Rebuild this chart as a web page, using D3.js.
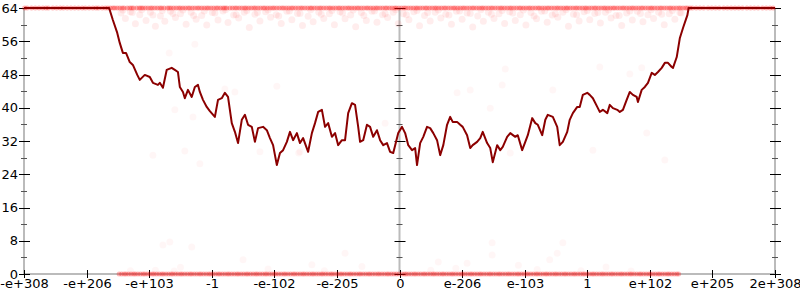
<!DOCTYPE html>
<html>
<head>
<meta charset="utf-8">
<script src="https://cdn.jsdelivr.net/npm/d3@7"></script>
<style>
body { margin: 0; background: #fff; }
text { font-family: "DejaVu Sans", sans-serif; font-size: 13px; fill: #000; }
</style>
</head>
<body>
<script>
//x positions are in tick units: -6 is the left edge, 0 the middle, 6 the right edge
var xTickLabels = ["-e+308", "-e+206", "-e+103", "-1", "-e-102", "-e-205", "0",
                   "e-206", "e-103", "1", "e+102", "e+205", "2e+308"];
var yTicks = [0, 8, 16, 24, 32, 40, 48, 56, 64];
var yMinorTicks = [4, 12, 20, 28, 36, 44, 52, 60];

//the dark red line
var lineT = [-6, -4.64, -4.58, -4.51, -4.47, -4.42, -4.37, -4.31, -4.26, -4.19, -4.15, -4.07, -3.99, -3.94, -3.86, -3.83,
    -3.78, -3.72, -3.64, -3.59, -3.54, -3.51, -3.46, -3.43, -3.38, -3.32, -3.27, -3.22, -3.19, -3.14, -3.08, -3.03,
    -2.95, -2.90, -2.84, -2.79, -2.74, -2.68, -2.63, -2.58, -2.52, -2.47, -2.42, -2.36, -2.31, -2.26, -2.18, -2.12,
    -2.07, -2.02, -1.96, -1.91, -1.86, -1.80, -1.75, -1.70, -1.64, -1.59, -1.54, -1.46, -1.40, -1.35, -1.30, -1.24,
    -1.19, -1.14, -1.08, -1.03, -0.98, -0.92, -0.87, -0.82, -0.76, -0.71, -0.66, -0.63, -0.58, -0.52, -0.47, -0.42,
    -0.36, -0.31, -0.26, -0.20, -0.15, -0.10, -0.06, -0.02, 0.04, 0.09, 0.14, 0.20, 0.25, 0.28, 0.33, 0.38,
    0.44, 0.49, 0.54, 0.60, 0.65, 0.70, 0.76, 0.81, 0.85, 0.92, 0.97, 1.01, 1.08, 1.13, 1.17, 1.24,
    1.29, 1.33, 1.40, 1.45, 1.49, 1.56, 1.61, 1.65, 1.72, 1.77, 1.85, 1.89, 1.96, 2.01, 2.05, 2.12,
    2.17, 2.21, 2.28, 2.33, 2.37, 2.45, 2.52, 2.56, 2.61, 2.68, 2.72, 2.77, 2.84, 2.88, 2.93, 3.00,
    3.04, 3.09, 3.16, 3.20, 3.25, 3.32, 3.36, 3.41, 3.48, 3.52, 3.57, 3.63, 3.68, 3.73, 3.79, 3.81,
    3.87, 3.92, 3.97, 4.03, 4.08, 4.13, 4.19, 4.24, 4.29, 4.35, 4.37, 4.43, 4.48, 4.53, 4.60, 4.62, 6];
var lineV = [64, 64, 61.1, 58.0, 55.6, 53.2, 53.2, 51.0, 50.3, 47.9, 46.7, 47.9, 47.4, 46.0, 45.5, 46.0,
    44.8, 49.1, 49.6, 49.1, 48.6, 45.0, 43.8, 42.3, 44.3, 42.6, 45.0, 45.5, 43.8, 41.9, 40.2, 39.2,
    37.8, 41.9, 42.3, 43.6, 42.6, 36.3, 34.2, 31.5, 37.1, 38.3, 35.9, 35.4, 31.8, 35.1, 35.4, 34.6,
    32.7, 31.0, 26.2, 29.1, 29.8, 31.8, 34.2, 32.2, 33.9, 31.5, 32.7, 29.4, 33.9, 36.3, 39.0, 39.5,
    35.4, 36.3, 33.0, 33.9, 31.0, 32.2, 32.2, 38.7, 41.1, 40.7, 35.4, 31.8, 32.2, 35.9, 35.4, 33.0,
    34.6, 32.2, 31.0, 31.5, 29.4, 29.1, 31.5, 33.9, 35.4, 33.9, 31.0, 29.8, 30.3, 26.2, 31.5, 33.0,
    35.4, 35.1, 33.9, 32.2, 28.6, 31.0, 35.9, 37.8, 36.6, 36.6, 35.9, 35.4, 33.4, 30.3, 31.0, 31.8,
    32.7, 34.2, 31.5, 30.3, 26.9, 31.0, 29.8, 30.6, 33.0, 33.9, 33.0, 33.4, 29.8, 31.8, 33.4, 37.5,
    36.3, 35.9, 33.4, 37.1, 38.3, 37.8, 35.4, 31.0, 31.8, 34.2, 37.1, 38.7, 40.2, 40.2, 43.1, 43.6,
    43.1, 42.3, 40.2, 39.0, 39.5, 38.7, 40.7, 39.9, 39.5, 39.0, 39.5, 41.9, 43.8, 43.1, 42.6, 41.4,
    44.3, 45.0, 46.0, 48.4, 47.9, 48.6, 49.6, 50.8, 50.8, 49.8, 49.6, 52.2, 56.8, 59.2, 62.3, 64, 64];

//dense row of points sitting on 64
var topRowT = [-5.99, -5.95, -5.88, -5.82, -5.76, -5.7, -5.65, -5.61, -5.54, -5.48, -5.42, -5.37, -5.31, -5.25,
    -5.19, -5.13, -5.07, -5.02, -4.96, -4.9, -4.85, -4.81, -4.75, -4.7, -4.66, -4.62, -4.58, -4.55, -4.51, -4.47,
    -4.43, -4.4, -4.35, -4.31, -4.28, -4.25, -4.2, -4.16, -4.13, -4.1, -4.06, -4.02, -3.98, -3.95, -3.91, -3.87,
    -3.83, -3.8, -3.76, -3.71, -3.68, -3.65, -3.61, -3.57, -3.53, -3.5, -3.46, -3.42, -3.38, -3.35, -3.31, -3.27,
    -3.23, -3.2, -3.16, -3.12, -3.08, -3.05, -3.01, -2.97, -2.93, -2.9, -2.86, -2.82, -2.79, -2.76, -2.71, -2.67,
    -2.63, -2.6, -2.56, -2.52, -2.48, -2.45, -2.41, -2.37, -2.33, -2.3, -2.26, -2.22, -2.18, -2.15, -2.11, -2.07,
    -2.03, -2.0, -1.96, -1.92, -1.88, -1.85, -1.81, -1.77, -1.73, -1.7, -1.66, -1.62, -1.58, -1.55, -1.51, -1.47,
    -1.43, -1.4, -1.36, -1.32, -1.28, -1.25, -1.21, -1.17, -1.13, -1.1, -1.06, -1.02, -0.98, -0.95, -0.91, -0.87,
    -0.83, -0.8, -0.76, -0.72, -0.68, -0.65, -0.61, -0.57, -0.53, -0.5, -0.46, -0.42, -0.38, -0.35, -0.31, -0.27,
    -0.23, -0.2, -0.16, -0.12, -0.08, -0.05, -0.01, 0.03, 0.07, 0.1, 0.14, 0.18, 0.22, 0.26, 0.29, 0.33, 0.37,
    0.41, 0.44, 0.48, 0.52, 0.56, 0.59, 0.63, 0.67, 0.71, 0.74, 0.78, 0.82, 0.86, 0.89, 0.93, 0.97, 1.01, 1.04,
    1.08, 1.12, 1.16, 1.19, 1.23, 1.27, 1.31, 1.34, 1.38, 1.42, 1.46, 1.49, 1.53, 1.57, 1.61, 1.64, 1.68, 1.72,
    1.76, 1.79, 1.83, 1.87, 1.91, 1.94, 1.98, 2.02, 2.06, 2.09, 2.13, 2.17, 2.21, 2.24, 2.28, 2.32, 2.36, 2.39,
    2.43, 2.47, 2.51, 2.54, 2.58, 2.62, 2.66, 2.69, 2.73, 2.77, 2.81, 2.84, 2.88, 2.92, 2.96, 2.99, 3.03, 3.07,
    3.11, 3.14, 3.18, 3.22, 3.26, 3.29, 3.33, 3.37, 3.41, 3.44, 3.48, 3.52, 3.56, 3.59, 3.63, 3.67, 3.71, 3.74,
    3.78, 3.82, 3.86, 3.89, 3.93, 3.97, 4.01, 4.04, 4.08, 4.12, 4.16, 4.19, 4.23, 4.27, 4.31, 4.34, 4.38, 4.42,
    4.46, 4.49, 4.53, 4.57, 4.6, 4.64, 4.68, 4.74, 4.8, 4.86, 4.93, 4.99, 5.05, 5.11, 5.18, 5.24, 5.3, 5.36,
    5.42, 5.48, 5.55, 5.61, 5.67, 5.73, 5.8, 5.86, 5.92, 5.97];

//dense row of points sitting on 0
var bottomRowT = [-4.48, -4.44, -4.4, -4.37, -4.33, -4.29, -4.25, -4.22, -4.18, -4.14, -4.1, -4.07, -4.03, -3.99,
    -3.95, -3.92, -3.88, -3.84, -3.8, -3.77, -3.73, -3.69, -3.65, -3.62, -3.58, -3.54, -3.5, -3.47, -3.43, -3.39,
    -3.35, -3.32, -3.28, -3.24, -3.2, -3.17, -3.13, -3.09, -3.05, -3.02, -2.98, -2.94, -2.9, -2.87, -2.83, -2.79,
    -2.75, -2.72, -2.68, -2.64, -2.6, -2.57, -2.53, -2.49, -2.45, -2.42, -2.38, -2.34, -2.3, -2.27, -2.23, -2.19,
    -2.15, -2.12, -2.08, -2.04, -2.0, -1.97, -1.93, -1.89, -1.85, -1.82, -1.78, -1.74, -1.7, -1.67, -1.63, -1.59,
    -1.55, -1.52, -1.48, -1.44, -1.4, -1.37, -1.33, -1.29, -1.25, -1.22, -1.18, -1.14, -1.1, -1.07, -1.03, -0.99,
    -0.95, -0.92, -0.88, -0.84, -0.8, -0.77, -0.73, -0.69, -0.65, -0.62, -0.58, -0.54, -0.5, -0.47, -0.43, -0.39,
    -0.35, -0.32, -0.28, -0.24, -0.2, -0.17, -0.13, -0.09, -0.05, -0.01, 0.04, 0.08, 0.11, 0.15, 0.19, 0.23, 0.26,
    0.3, 0.34, 0.38, 0.41, 0.45, 0.49, 0.53, 0.56, 0.6, 0.64, 0.68, 0.71, 0.75, 0.79, 0.83, 0.86, 0.9, 0.94, 0.98,
    1.01, 1.05, 1.09, 1.13, 1.16, 1.2, 1.24, 1.28, 1.31, 1.35, 1.39, 1.43, 1.46, 1.5, 1.54, 1.58, 1.61, 1.65,
    1.69, 1.73, 1.76, 1.8, 1.84, 1.88, 1.91, 1.95, 1.99, 2.03, 2.06, 2.1, 2.14, 2.18, 2.21, 2.25, 2.29, 2.33,
    2.36, 2.4, 2.44, 2.48, 2.51, 2.55, 2.59, 2.63, 2.66, 2.7, 2.74, 2.78, 2.81, 2.85, 2.89, 2.93, 2.96, 3.0,
    3.04, 3.08, 3.11, 3.15, 3.19, 3.23, 3.26, 3.3, 3.34, 3.38, 3.41, 3.45, 3.49, 3.53, 3.56, 3.6, 3.64, 3.68,
    3.71, 3.75, 3.79, 3.83, 3.86, 3.9, 3.94, 3.98, 4.01, 4.05, 4.09, 4.13, 4.16, 4.2, 4.24, 4.28, 4.31, 4.35,
    4.39, 4.43, 4.46];

//the cloud just under 64
var cloudT = [-4.45, -4.38, -4.3, -4.22, -4.15, -4.05, -3.98, -3.9, -3.82, -3.75, -3.66, -3.58, -3.5, -3.41,
    -3.33, -3.25, -3.16, -3.08, -2.99, -2.9, -2.82, -2.74, -2.65, -2.57, -2.48, -2.4, -2.31, -2.23, -2.14, -2.06,
    -1.97, -1.89, -1.8, -1.72, -1.63, -1.55, -1.46, -1.38, -1.29, -1.21, -1.12, -1.04, -0.95, -0.87, -0.78, -0.7,
    -0.61, -0.53, -0.44, -0.36, -0.27, -0.19, -0.1, -0.02, 0.06, 0.15, 0.23, 0.32, 0.4, 0.49, 0.57, 0.66, 0.74,
    0.83, 0.91, 1.0, 1.08, 1.17, 1.25, 1.34, 1.42, 1.51, 1.59, 1.68, 1.76, 1.85, 1.93, 2.02, 2.1, 2.19, 2.27,
    2.36, 2.44, 2.53, 2.61, 2.7, 2.78, 2.87, 2.95, 3.04, 3.12, 3.21, 3.29, 3.38, 3.46, 3.55, 3.63, 3.72, 3.8,
    3.89, 3.97, 4.06, 4.14, 4.23, 4.31, 4.4, 4.48,
    -4.42, -4.27, -4.12, -3.94, -3.79, -3.62, -3.46, -3.29, -3.12, -2.95, -2.78, -2.61, -2.44, -2.27, -2.1,
    -1.93, -1.76, -1.59, -1.42, -1.25, -1.08, -0.91, -0.74, -0.57, -0.4, -0.23, -0.06, 0.11, 0.28, 0.45, 0.62,
    0.79, 0.96, 1.13, 1.3, 1.47, 1.64, 1.81, 1.98, 2.15, 2.32, 2.49, 2.66, 2.83, 3.0, 3.17, 3.34, 3.51, 3.68,
    3.85, 4.02, 4.19, 4.36, 4.5];
var cloudV = [62.8, 61.5, 63.1, 60.2, 62.4, 61.0, 63.0, 59.6, 62.1, 60.8, 63.2, 61.7, 62.6, 60.1,
    63.0, 61.3, 62.2, 59.9, 62.9, 61.1, 63.3, 60.5, 62.3, 61.6, 63.0, 59.3, 62.5, 60.9, 63.1, 61.8,
    62.4, 60.3, 63.2, 61.2, 62.7, 59.8, 62.0, 60.7, 63.0, 61.5, 62.6, 60.0, 63.1, 61.4, 62.3, 59.5,
    62.9, 61.0, 63.2, 60.6, 62.4, 61.7, 63.0, 60.2, 62.6, 61.2, 63.1, 59.7, 62.2, 60.9, 63.0, 61.6, 62.5,
    60.1, 63.2, 61.3, 62.8, 59.4, 62.1, 60.8, 63.0, 61.5, 62.6, 60.3, 63.1, 61.0, 62.4, 59.9, 62.9, 61.4, 63.2,
    60.6, 62.3, 61.8, 63.0, 59.6, 62.5, 60.9, 63.1, 61.2, 62.7, 60.4, 63.0, 61.6, 62.2, 59.8, 62.8, 61.1, 63.2,
    60.7, 62.4, 61.5, 63.0, 60.0, 62.6, 61.3, 62.9,
    63.5, 62.9, 63.6, 62.3, 63.4, 62.7, 63.5, 62.2, 63.3, 62.8, 63.6, 62.4, 63.4, 62.9, 63.5,
    62.1, 63.3, 62.7, 63.6, 62.5, 63.4, 62.8, 63.5, 62.2, 63.3, 62.6, 63.6, 62.4, 63.4, 62.9, 63.5,
    62.3, 63.3, 62.7, 63.6, 62.5, 63.4, 62.8, 63.5, 62.1, 63.3, 62.6, 63.6, 62.4, 63.4, 62.9, 63.5, 62.2, 63.3,
    62.7, 63.6, 62.5, 63.4, 62.8];

//stray points in the open area and just above 0
var strayT = [-3.27, -3.68, -2.79, -2.63, -1.96, -3.59, -3.30, -3.94, -3.43, -3.19, -2.23, -1.61, 1.69, 1.64,
    3.20, 3.68, 3.87, 2.45, 3.95, 3.09, 4.24, -1.59, -0.23, 0.92, 1.13, 1.45, 1.77, -3.78, -3.67, -3.32, -2.50,
    -0.87, 1.48, 1.48, 0.62, 1.08, 2.61, 2.52, 2.40, -4.3, -3.9, -3.6, -1.2, 0.5, 2.9, 3.7,
    -3.5, -2.1, -0.6, 0.9, 2.2, 3.3, -1.4, 1.9];
var strayV = [55.3, 53.2, 44.5, 43.8, 45.2, 39.5, 37.8, 28.6, 29.6, 26.5, 29.4, 29.1, 49.3, 45.5,
    49.8, 48.1, 49.6, 44.3, 33.9, 29.8, 27.4, 29.4, 36.3, 43.6, 44.3, 39.9, 29.1, 7.0, 7.7, 6.5, 3.4,
    5.0, 7.5, 4.6, 2.9, 2.6, 7.5, 5.0, 3.4, 0.8, 0.9, 0.7, 0.8, 0.9, 0.8, 0.7,
    1.6, 1.2, 1.8, 1.4, 1.1, 1.7, 2.2, 2.1];

//begin script when window loads
window.onload = drawChart();

function drawChart(){
    var width = 800,
        height = 300;

    var svg = d3.select("body")
        .append("svg")
        .attr("width", width)
        .attr("height", height);

    var x = d3.scaleLinear()
        .domain([-6, 6])
        .range([24, 775]);

    var y = d3.scaleLinear()
        .domain([0, 64])
        .range([274, 8]);

    drawAxes(svg, x, y);

    //scatter: faint cloud first, then the two dense rows
    var points = [];
    cloudT.forEach(function(t, i){ points.push({t: t, v: cloudV[i], r: 3.5, o: 0.07}); });
    strayT.forEach(function(t, i){ points.push({t: t, v: strayV[i], r: 3.5, o: 0.035}); });
    topRowT.forEach(function(t){ points.push({t: t, v: 64, r: 2.5, o: 0.3}); });
    bottomRowT.forEach(function(t){ points.push({t: t, v: 0, r: 2.5, o: 0.28}); });

    svg.append("g")
        .selectAll("circle")
        .data(points)
        .enter()
        .append("circle")
        .attr("cx", function(d){ return x(d.t); })
        .attr("cy", function(d){ return y(d.v); })
        .attr("r", function(d){ return d.r; })
        .attr("fill", "#ff0000")
        .attr("fill-opacity", function(d){ return d.o; });

    //the line on top
    var line = d3.line()
        .x(function(d){ return x(d[0]); })
        .y(function(d){ return y(d[1]); });

    svg.append("path")
        .datum(d3.zip(lineT, lineV))
        .attr("d", line)
        .attr("fill", "none")
        .attr("stroke", "#8b0000")
        .attr("stroke-width", 2)
        .attr("stroke-linejoin", "round");
};

function drawAxes(svg, x, y){
    var g = svg.append("g").attr("class", "axes");

    //gray x axis line
    g.append("line")
        .attr("x1", x(-6)).attr("x2", x(6))
        .attr("y1", y(0)).attr("y2", y(0))
        .attr("stroke", "#bbb")
        .attr("stroke-width", 2);

    //three vertical axes: left, middle, right
    [-6, 0, 6].forEach(function(t){
        var ax = g.append("g");
        ax.append("line")
            .attr("x1", x(t)).attr("x2", x(t))
            .attr("y1", y(64)).attr("y2", y(0))
            .attr("stroke", "#bbb")
            .attr("stroke-width", 2);

        ax.selectAll(".major")
            .data(yTicks)
            .enter()
            .append("line")
            .attr("x1", x(t) - 5).attr("x2", x(t) + 6)
            .attr("y1", function(d){ return Math.round(y(d)) + 0.5; })
            .attr("y2", function(d){ return Math.round(y(d)) + 0.5; })
            .attr("stroke", "#000");

        ax.selectAll(".minor")
            .data(yMinorTicks)
            .enter()
            .append("line")
            .attr("x1", x(t) - 3).attr("x2", x(t) + 3)
            .attr("y1", function(d){ return Math.round(y(d)) + 0.5; })
            .attr("y2", function(d){ return Math.round(y(d)) + 0.5; })
            .attr("stroke", "#555");
    });

    //y labels on the left axis only
    g.selectAll(".ylabel")
        .data(yTicks)
        .enter()
        .append("text")
        .attr("x", x(-6) - 6)
        .attr("y", function(d){ return y(d); })
        .attr("dy", "0.36em")
        .attr("text-anchor", "end")
        .text(function(d){ return d; });

    //x ticks and labels
    var xt = g.selectAll(".xtick")
        .data(xTickLabels)
        .enter()
        .append("g")
        .attr("transform", function(d, i){ return "translate(" + (Math.round(x(i - 6)) + 0.5) + ",0)"; });

    xt.append("line")
        .attr("y1", y(0) - 4).attr("y2", y(0) + 4)
        .attr("stroke", "#000");

    xt.append("text")
        .attr("y", 288)
        .attr("text-anchor", "middle")
        .text(function(d){ return d; });
};
</script>
</body>
</html>
